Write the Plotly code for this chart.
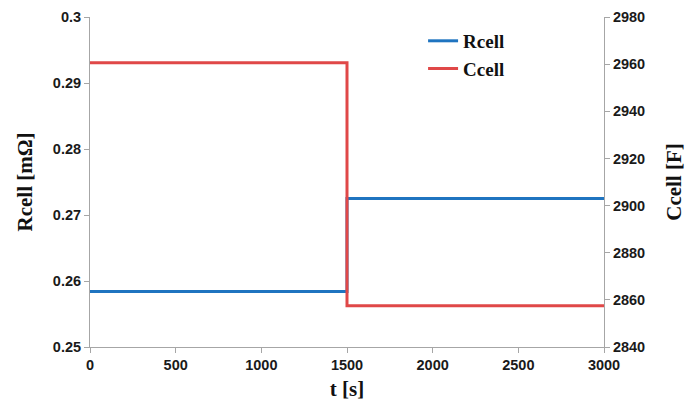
import plotly.graph_objects as go

t = [0, 1500, 3000]
rcell = [0.2584, 0.2725, 0.2725]
ccell = [2960.6, 2857.5, 2857.5]

x_ticks = [0, 500, 1000, 1500, 2000, 2500, 3000]
r_ticks = [0.25, 0.26, 0.27, 0.28, 0.29, 0.3]
r_labels = ["0.25", "0.26", "0.27", "0.28", "0.29", "0.3"]
c_ticks = [2840, 2860, 2880, 2900, 2920, 2940, 2960, 2980]

blue = "#1f74c0"
red = "#e04848"
axis_col = "#a6a6a6"
tick_font = dict(family="Liberation Sans", size=14.5, color="#1a1a1a")
title_font = dict(family="Liberation Serif", size=21, color="#111111", weight="bold")


def bold(vals):
    return ["<b>%s</b>" % v for v in vals]


fig = go.Figure()
fig.add_trace(go.Scatter(x=t, y=rcell, mode="lines", line_shape="hv",
                         line=dict(color=blue, width=3), name="Rcell", yaxis="y"))
fig.add_trace(go.Scatter(x=t, y=ccell, mode="lines", line_shape="hv",
                         line=dict(color=red, width=3), name="Ccell", yaxis="y2"))

fig.update_layout(
    width=692, height=405,
    margin=dict(l=90, r=88, t=17, b=58),
    paper_bgcolor="white", plot_bgcolor="white",
    showlegend=True,
    legend=dict(x=0.648, y=0.985, xanchor="left", yanchor="top",
                font=dict(family="Liberation Serif", size=19, color="#111111", weight="bold"),
                bgcolor="rgba(0,0,0,0)", itemwidth=30),
    xaxis=dict(range=[0, 3000], tickvals=x_ticks, ticktext=bold(x_ticks),
               ticks="outside", ticklen=5, automargin=False,
               tickcolor=axis_col, showline=True, linecolor=axis_col, linewidth=1,
               showgrid=False, zeroline=False, tickfont=tick_font,
               title=dict(text="t [s]", font=title_font, standoff=8)),
    yaxis=dict(range=[0.25, 0.3], tickvals=r_ticks, ticktext=bold(r_labels),
               ticks="outside", ticklen=5, tickcolor=axis_col, showline=True,
               linecolor=axis_col, linewidth=1, showgrid=False, zeroline=False,
               tickfont=tick_font, automargin=False,
               title=dict(text="Rcell [mΩ]", font=title_font, standoff=14)),
    yaxis2=dict(range=[2840, 2980], tickvals=c_ticks, ticktext=bold(c_ticks),
                overlaying="y", side="right", automargin=False,
                ticks="outside", ticklen=5, tickcolor=axis_col, showline=True,
                linecolor=axis_col, linewidth=1, showgrid=False, zeroline=False,
                tickfont=tick_font,
                title=dict(text="Ccell [F]", font=title_font, standoff=22)),
)

fig.write_html("out.html")
